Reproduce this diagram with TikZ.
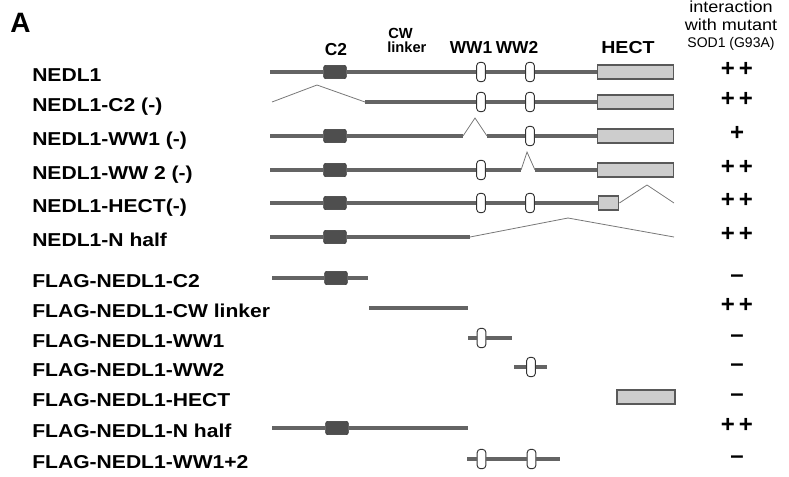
\documentclass[tikz,border=0pt]{standalone}
\usepackage{fontspec}
\setmainfont{Liberation Sans}
\newfontfamily\lblfont[FakeStretch=1.13]{Liberation Sans}
\usepackage{tikz}
\usetikzlibrary{positioning}
\definecolor{bbgray}{RGB}{100,100,100}
\definecolor{c2gray}{RGB}{78,78,78}
\definecolor{hectgray}{RGB}{205,205,205}
\definecolor{gapgray}{RGB}{120,120,120}

\begin{document}
\begin{tikzpicture}[x=0.75pt,y=-0.75pt,
    bb/.style={line width=2.6pt,bbgray},
    gap/.style={line width=0.6pt,gapgray},
    c2box/.style={rectangle,rounded corners=1.5pt,fill=c2gray,draw=c2gray!70!black,
      line width=0.4pt,minimum width=17pt,minimum height=10pt,inner sep=0pt},
    wwbox/.style={rectangle,rounded corners=2.5pt,fill=white,draw=black!80,
      line width=0.7pt,minimum width=6.5pt,minimum height=14.5pt,inner sep=0pt},
    hectbox/.style={rectangle,fill=hectgray,draw=black!65,line width=0.8pt,
      minimum height=10.5pt,inner sep=0pt},
    lbl/.style={anchor=base west,inner sep=0pt,
      font=\lblfont\bfseries\fontsize{14}{16}\selectfont},
    hdr/.style={anchor=base,inner sep=0pt,font=\bfseries\fontsize{13}{15}\selectfont},
    res/.style={font=\bfseries\fontsize{18}{20}\selectfont,text height=0.6em,
      text depth=0pt,inner sep=0pt}]
  \useasboundingbox (0,0) rectangle (789,476);

  % panel letter and column heads
  \node[anchor=base west,inner sep=0pt,font=\bfseries\fontsize{21}{24}\selectfont] (panel) at (10,32) {A};
  \node[hdr] (hc2) at (336,55) {C2};
  \node[anchor=base west,inner sep=0pt,font=\bfseries\fontsize{11}{13}\selectfont] (hcw) at (388,38) {CW};
  \node[anchor=base west,inner sep=0pt,font=\bfseries\fontsize{11}{13}\selectfont] (hlink) at (387,52) {linker};
  \node[hdr] (hww1) at (471,53) {WW1};
  \node[hdr] (hww2) at (517,53) {WW2};
  \node[hdr,font=\lblfont\bfseries\fontsize{13}{15}\selectfont] (hhect) at (628,53) {HECT};
  \node[anchor=base,font=\lblfont\fontsize{12}{14}\selectfont] (hint) at (731,12) {interaction};
  \node[anchor=base,font=\lblfont\fontsize{12}{14}\selectfont] (hwith) at (731,30) {with mutant};
  \node[anchor=base,font=\fontsize{10.5}{12}\selectfont] (hsod) at (731,47) {SOD1 (G93A)};

  % construct names and binding results
  \foreach \y/\txt/\val [count=\i] in {72/NEDL1/+\,+, 102/NEDL1-C2 (-)/+\,+,
      136/NEDL1-WW1 (-)/+, 170/NEDL1-WW 2 (-)/+\,+, 203/NEDL1-HECT(-)/+\,+,
      237/NEDL1-N half/+\,+, 278/FLAG-NEDL1-C2/\textendash,
      308/FLAG-NEDL1-CW linker/+\,+, 338/FLAG-NEDL1-WW1/\textendash,
      367/FLAG-NEDL1-WW2/\textendash, 397/FLAG-NEDL1-HECT/\textendash,
      428/FLAG-NEDL1-N half/+\,+, 459/FLAG-NEDL1-WW1+2/\textendash} {
    \node[lbl] (lab\i) at (32,\y+9.5) {\txt};
    \node[res] (int\i) at (737,\y) {\val};
  }

  % NEDL1
  \coordinate (sa) at (270,72);
  \node[c2box] (c2a) at (335,72) {};
  \node[wwbox] (wa) at (481,72) {};
  \node[wwbox] (wb) at (530,72) {};
  \node[hectbox,minimum width=57.5pt] (ha) at (635.5,72) {};
  \draw[bb] (sa) -- (c2a) -- (wa) -- (wb) -- (ha);

  % C2 deleted
  \coordinate (sb) at (272,102);
  \coordinate (pb) at (317,85);
  \coordinate (eb) at (365,102);
  \node[wwbox] (wc) at (481,102) {};
  \node[wwbox] (wd) at (530,102) {};
  \node[hectbox,minimum width=57.5pt] (hb) at (635.5,102) {};
  \draw[gap] (sb) -- (pb) -- (eb);
  \draw[bb] (eb) -- (wc) -- (wd) -- (hb);

  % WW1 deleted
  \coordinate (sc) at (270,136);
  \node[c2box] (c2c) at (335,136) {};
  \coordinate (gc1) at (463,136);
  \coordinate (gc2) at (475,118);
  \coordinate (gc3) at (487,136);
  \node[wwbox] (we) at (530,136) {};
  \node[hectbox,minimum width=57.5pt] (hc) at (635.5,136) {};
  \draw[bb] (sc) -- (c2c) -- (gc1);
  \draw[gap] (gc1) -- (gc2) -- (gc3);
  \draw[bb] (gc3) -- (we) -- (hc);

  % WW2 deleted
  \coordinate (sd) at (270,170);
  \node[c2box] (c2d) at (335,170) {};
  \node[wwbox] (wf) at (481,170) {};
  \coordinate (gd1) at (521,170);
  \coordinate (gd2) at (527,152);
  \coordinate (gd3) at (535,170);
  \node[hectbox,minimum width=57.5pt] (hd) at (635.5,170) {};
  \draw[bb] (sd) -- (c2d) -- (wf) -- (gd1);
  \draw[gap] (gd1) -- (gd2) -- (gd3);
  \draw[bb] (gd3) -- (hd);

  % HECT deleted
  \coordinate (se) at (270,203);
  \node[c2box] (c2e) at (335,203) {};
  \node[wwbox] (wg) at (481,203) {};
  \node[wwbox] (wh) at (530,203) {};
  \node[hectbox,minimum width=15.5pt] (he) at (608.5,203) {};
  \coordinate (pe) at (647,185);
  \coordinate (ee) at (674,203);
  \draw[bb] (se) -- (c2e) -- (wg) -- (wh) -- (he);
  \draw[gap] (he.east) -- (pe) -- (ee);

  % N half
  \coordinate (sf) at (270,237);
  \node[c2box] (c2f) at (335,237) {};
  \coordinate (gf1) at (470,237);
  \coordinate (gf2) at (568,218);
  \coordinate (gf3) at (674,237);
  \draw[bb] (sf) -- (c2f) -- (gf1);
  \draw[gap] (gf1) -- (gf2) -- (gf3);

  % FLAG fragments
  \coordinate (sg) at (272,278);
  \node[c2box] (c2g) at (336,278) {};
  \coordinate (eg) at (368,278);
  \draw[bb] (sg) -- (c2g) -- (eg);

  \coordinate (sh) at (369,308);
  \coordinate (eh) at (468,308);
  \draw[bb] (sh) -- (eh);

  \coordinate (si) at (468,338);
  \node[wwbox] (wi) at (481.5,338) {};
  \coordinate (ei) at (512,338);
  \draw[bb] (si) -- (wi) -- (ei);

  \coordinate (sj) at (514,367);
  \node[wwbox] (wj) at (531,367) {};
  \coordinate (ej) at (547,367);
  \draw[bb] (sj) -- (wj) -- (ej);

  \node[hectbox,minimum width=43.5pt] (hk) at (646,397) {};

  \coordinate (sl) at (272,428);
  \node[c2box] (c2l) at (337,428) {};
  \coordinate (el) at (468,428);
  \draw[bb] (sl) -- (c2l) -- (el);

  \coordinate (sm) at (467,459);
  \node[wwbox] (wm) at (481.5,459) {};
  \node[wwbox] (wn) at (531.5,459) {};
  \coordinate (em) at (560,459);
  \draw[bb] (sm) -- (wm) -- (wn) -- (em);
\end{tikzpicture}
\end{document}
